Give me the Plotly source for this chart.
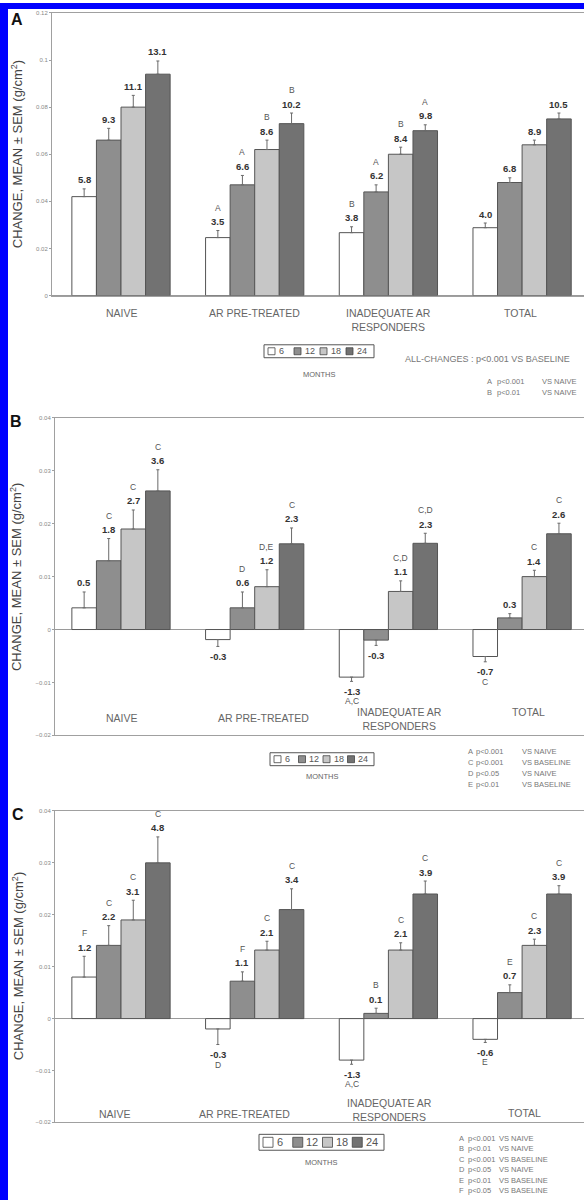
import plotly.graph_objects as go

W, H = 584, 1203

categories = ["NAIVE", "AR PRE-TREATED", "INADEQUATE AR<br>RESPONDERS", "TOTAL"]
months = ["6", "12", "18", "24"]
bar_colors = ["#ffffff", "#8e8e8e", "#c6c6c6", "#727272"]

# ---------------- Panel A : change (g/cm2), SEM, % labels, letters
a_m6 = [0.0420, 0.0246, 0.0267, 0.0288]
a_m12 = [0.0660, 0.0470, 0.0440, 0.0480]
a_m18 = [0.0800, 0.0620, 0.0600, 0.0640]
a_m24 = [0.0940, 0.0730, 0.0700, 0.0750]
a_s6 = [0.0033, 0.0030, 0.0025, 0.0020]
a_s12 = [0.0050, 0.0040, 0.0030, 0.0020]
a_s18 = [0.0050, 0.0040, 0.0030, 0.0020]
a_s24 = [0.0056, 0.0045, 0.0025, 0.0025]
a_p6 = [5.8, 3.5, 3.8, 4.0]
a_p12 = [9.3, 6.6, 6.2, 6.8]
a_p18 = [11.1, 8.6, 8.4, 8.9]
a_p24 = [13.1, 10.2, 9.8, 10.5]
a_l6 = ["", "A", "B", ""]
a_l12 = ["", "A", "A", ""]
a_l18 = ["", "B", "B", ""]
a_l24 = ["", "B", "A", ""]

# ---------------- Panel B
b_m6 = [0.0041, -0.0019, -0.0090, -0.0051]
b_m12 = [0.0130, 0.0041, -0.0020, 0.0022]
b_m18 = [0.0190, 0.0081, 0.0072, 0.0100]
b_m24 = [0.0262, 0.0162, 0.0163, 0.0181]
b_s6 = [0.0030, 0.0013, 0.0008, 0.0010]
b_s12 = [0.0042, 0.0030, 0.0010, 0.0008]
b_s18 = [0.0036, 0.0032, 0.0020, 0.0012]
b_s24 = [0.0040, 0.0030, 0.0019, 0.0020]
b_p6 = [0.5, -0.3, -1.3, -0.7]
b_p12 = [1.8, 0.6, -0.3, 0.3]
b_p18 = [2.7, 1.2, 1.1, 1.4]
b_p24 = [3.6, 2.3, 2.3, 2.6]
b_l6 = ["", "", "A,C", "C"]
b_l12 = ["C", "D", "", ""]
b_l18 = ["C", "D,E", "C,D", "C"]
b_l24 = ["C", "C", "C,D", "C"]

# ---------------- Panel C
c_m6 = [0.0080, -0.0020, -0.0080, -0.0040]
c_m12 = [0.0141, 0.0072, 0.0010, 0.0050]
c_m18 = [0.0190, 0.0132, 0.0132, 0.0141]
c_m24 = [0.0300, 0.0210, 0.0240, 0.0240]
c_s6 = [0.0040, 0.0030, 0.0008, 0.0006]
c_s12 = [0.0038, 0.0018, 0.0010, 0.0015]
c_s18 = [0.0038, 0.0017, 0.0014, 0.0012]
c_s24 = [0.0050, 0.0040, 0.0025, 0.0016]
c_p6 = [1.2, -0.3, -1.3, -0.6]
c_p12 = [2.2, 1.1, 0.1, 0.7]
c_p18 = [3.1, 2.1, 2.1, 2.3]
c_p24 = [4.8, 3.4, 3.9, 3.9]
c_l6 = ["F", "D", "A,C", "E"]
c_l12 = ["C", "F", "B", "E"]
c_l18 = ["C", "C", "C", "C"]
c_l24 = ["C", "C", "C", "C"]

a_notes = [("A", "p<0.001", "VS NAIVE"), ("B", "p<0.01", "VS NAIVE")]
b_notes = [("A", "p<0.001", "VS NAIVE"), ("C", "p<0.001", "VS BASELINE"),
           ("D", "p<0.05", "VS NAIVE"), ("E", "p<0.01", "VS BASELINE")]
c_notes = [("A", "p<0.001", "VS NAIVE"), ("B", "p<0.01", "VS NAIVE"),
           ("C", "p<0.001", "VS BASELINE"), ("D", "p<0.05", "VS NAIVE"),
           ("E", "p<0.01", "VS BASELINE"), ("F", "p<0.05", "VS BASELINE")]
all_changes = "ALL-CHANGES : p<0.001 VS BASELINE"
ytitle = "CHANGE, MEAN \u00b1 SEM (g/cm<sup>2</sup>)"

panels = [
    dict(letter="A", means=[a_m6, a_m12, a_m18, a_m24], sems=[a_s6, a_s12, a_s18, a_s24],
         pct=[a_p6, a_p12, a_p18, a_p24], lets=[a_l6, a_l12, a_l18, a_l24], notes=a_notes,
         top=10, bottom=294, left=52, yr=[0, 0.12], dtick=0.02,
         cat_y=[312, 312, 318.5, 312], cat_dx=[1, 0, 0, -2],
         leg=(264, 374, 350, 13, 9), months_y=373, note_x=485, note_y0=380, note_dy=11,
         note_cols=(0, 10, 55), allchg=(403, 358), letter_pos=(17, 17), ytitle_y=152),
    dict(letter="B", means=[b_m6, b_m12, b_m18, b_m24], sems=[b_s6, b_s12, b_s18, b_s24],
         pct=[b_p6, b_p12, b_p18, b_p24], lets=[b_l6, b_l12, b_l18, b_l24], notes=b_notes,
         top=417, bottom=736, left=55, yr=[-0.02, 0.04], dtick=0.01,
         cat_y=[719, 719, 720, 713], cat_dx=[1, 9, 11, 6],
         leg=(270, 374, 760, 13, 9), months_y=777, note_x=466, note_y0=752, note_dy=11.3,
         note_cols=(0, 8, 54), allchg=None, letter_pos=(16, 421), ytitle_y=577),
    dict(letter="C", means=[c_m6, c_m12, c_m18, c_m24], sems=[c_s6, c_s12, c_s18, c_s24],
         pct=[c_p6, c_p12, c_p18, c_p24], lets=[c_l6, c_l12, c_l18, c_l24], notes=c_notes,
         top=812, bottom=1125, left=55, yr=[-0.02, 0.04], dtick=0.01,
         cat_y=[1117, 1117, 1112.5, 1116], cat_dx=[-6, -10, 1, 2],
         leg=(259, 384, 1145, 16, 11), months_y=1165, note_x=457, note_y0=1141, note_dy=10.5,
         note_cols=(0, 9, 40), allchg=None, letter_pos=(18, 816), ytitle_y=968),
]

UNIT = 133.7      # px per category
C0 = 121          # px centre of first category
BARGAP = 0.265
BW = (1 - BARGAP) / 4

FONT = "Liberation Sans, Arial, sans-serif"


def py(p):
    return 1 - p / H


def px(p):
    return p / W


fig = go.Figure()
layout = dict(width=W, height=H, margin=dict(l=0, r=0, t=0, b=0),
              paper_bgcolor="white", plot_bgcolor="white",
              barmode="group", bargap=BARGAP, bargroupgap=0,
              showlegend=False, font=dict(family=FONT))
annotations = []
shapes = []


def ann(**kw):
    kw.setdefault("showarrow", False)
    kw.setdefault("xanchor", "center")
    kw.setdefault("yanchor", "middle")
    annotations.append(kw)


for k, P in enumerate(panels):
    sfx = "" if k == 0 else str(k + 1)
    xa, ya = "x" + sfx, "y" + sfx
    for j in range(4):
        means, sems = P["means"][j], P["sems"][j]
        up = [s if m >= 0 else 0 for m, s in zip(means, sems)]
        dn = [s if m < 0 else 0 for m, s in zip(means, sems)]
        fig.add_trace(go.Bar(
            x=list(range(len(categories))), y=means, name=months[j],
            marker=dict(color=bar_colors[j], line=dict(color="#555555", width=1)),
            error_y=dict(type="data", symmetric=False, array=up, arrayminus=dn,
                         color="#6a6a6a", thickness=1, width=1.5),
            xaxis=xa, yaxis=ya, offsetgroup=str(j), hoverinfo="skip"))
        for i in range(len(categories)):
            xc = i + (j - 1.5) * BW
            m, s = means[i], sems[i]
            pos = m >= 0
            yv = m + s if pos else m - s
            ann(x=xc, y=yv, xref=xa, yref=ya, text=f"<b>{P['pct'][j][i]:.1f}</b>",
                yshift=9 if pos else -10,
                font=dict(size=9.5, color="#333333"))
            if P["lets"][j][i]:
                ann(x=xc, y=yv, xref=xa, yref=ya, text=P["lets"][j][i],
                    yshift=23 if pos else -20,
                    font=dict(size=8.5, color="#555555"))

    left = -(C0 - P["left"]) / UNIT
    right = (W - C0) / UNIT
    layout["xaxis" + sfx] = dict(
        domain=[px(P["left"]), 1], range=[left, right], anchor=ya,
        showticklabels=False, showgrid=False, zeroline=False, ticks="",
        showline=True, mirror=True, linecolor="#a0a0a0", linewidth=1, fixedrange=True)
    layout["yaxis" + sfx] = dict(
        domain=[py(P["bottom"]), py(P["top"])], range=P["yr"], anchor=xa,
        dtick=P["dtick"], showgrid=False, zeroline=True, zerolinecolor="#9a9a9a",
        zerolinewidth=1, showline=True, linecolor="#a0a0a0", linewidth=1,
        ticks="outside", ticklen=2, tickcolor="#a0a0a0", fixedrange=True,
        tickfont=dict(size=6, color="#888888"))

    # category labels
    for i, cat in enumerate(categories):
        ann(x=i, y=py(P["cat_y"][i]), xref=xa, yref="paper", text=cat,
            xshift=P["cat_dx"][i], font=dict(size=10.5, color="#666666"))

    # y title
    ann(x=px(P["letter_pos"][0]), y=py(P["ytitle_y"]), xref="paper", yref="paper",
        text=ytitle, textangle=-90, font=dict(size=13, color="#444444"))
    # panel letter
    ann(x=px(P["letter_pos"][0]), y=py(P["letter_pos"][1]), xref="paper", yref="paper",
        text=f"<b>{P['letter']}</b>", font=dict(size=16, color="#111111"))

    # legend box
    x0, x1, yc, hh, fs = P["leg"]
    shapes.append(dict(type="rect", xref="paper", yref="paper",
                       x0=px(x0), x1=px(x1), y0=py(yc + hh / 2), y1=py(yc - hh / 2),
                       line=dict(color="#555555", width=1), fillcolor="rgba(0,0,0,0)"))
    step = (x1 - x0 - 6) / 4
    sq = hh - 6
    for j in range(4):
        sx = x0 + 4 + j * step
        shapes.append(dict(type="rect", xref="paper", yref="paper",
                           x0=px(sx), x1=px(sx + sq), y0=py(yc + sq / 2), y1=py(yc - sq / 2),
                           line=dict(color="#444444", width=0.8), fillcolor=bar_colors[j]))
        ann(x=px(sx + sq + 1.5), y=py(yc), xref="paper", yref="paper",
            text=months[j], xanchor="left", font=dict(size=fs, color="#555555"))
    ann(x=px((x0 + x1) / 2), y=py(P["months_y"]), xref="paper", yref="paper",
        text="MONTHS", font=dict(size=7.5, color="#666666"))

    # notes
    if P["allchg"]:
        ann(x=px(P["allchg"][0]), y=py(P["allchg"][1]), xref="paper", yref="paper",
            text=all_changes, xanchor="left", font=dict(size=9, color="#777777"))
    c0, c1, c2 = P["note_cols"]
    for n, (lt, pv, vs) in enumerate(P["notes"]):
        yy = py(P["note_y0"] + n * P["note_dy"])
        for off, t in ((c0, lt), (c1, pv), (c2, vs)):
            ann(x=px(P["note_x"] + off), y=yy, xref="paper", yref="paper",
                text=t, xanchor="left", font=dict(size=7.5, color="#777777"))

# blue border (left and top)
shapes.append(dict(type="rect", xref="paper", yref="paper", x0=0, x1=px(8), y0=0, y1=1,
                   fillcolor="#0000ff", line=dict(width=0), layer="above"))
shapes.append(dict(type="rect", xref="paper", yref="paper", x0=0, x1=1, y0=py(6), y1=1,
                   fillcolor="#0000ff", line=dict(width=0), layer="above"))

layout["annotations"] = annotations
layout["shapes"] = shapes
fig.update_layout(**layout)
fig.write_html("out.html", config={"displayModeBar": False},
               post_script="document.body.style.margin='0';document.body.style.overflow='hidden';")
